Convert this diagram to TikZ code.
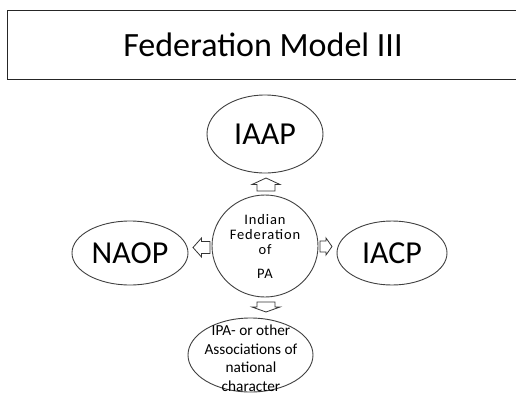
\documentclass[tikz,border=0pt]{standalone}
\usepackage{fontspec}
\setmainfont{Carlito}
\newfontfamily\spaced[LetterSpace=6]{Carlito}
\usetikzlibrary{shapes.geometric}
\tikzset{
  ell/.style={draw=black!75, line width=0.9pt, ellipse, inner sep=0pt, fill=white},
  blk/.style={draw=black!80, line width=0.8pt, fill=white, line join=miter},
  big/.style={font=\fontsize{32}{32}\selectfont},
}
\newcommand\blockarrow[6]{%
  \begin{scope}[shift={(#2,#3)},rotate=#4]
    \coordinate (#1) at (0,0);
    \draw[blk] (-#5/2,-0.32*#6) -- (0,-0.32*#6) -- (0,-0.5*#6) -- (#5/2,0)
      -- (0,0.5*#6) -- (0,0.32*#6) -- (-#5/2,0.32*#6) -- cycle;
  \end{scope}}
\begin{document}
\begin{tikzpicture}[x=1pt,y=-1pt]
  \useasboundingbox (0,0) rectangle (516,394);
  \clip (0,0) rectangle (516,394);
  % title
  \draw[draw=black!85, line width=0.9pt] (520,10) -- (7,10) -- (7,79) -- (520,79);
  \node[font=\fontsize{34}{34}\selectfont] (title) at (263,45) {Federation Model III};
  % ellipses
  \node[ell, minimum width=116pt, minimum height=78pt, big] (iaap) at (265,134) {IAAP};
  \node[ell, minimum width=106pt, minimum height=102pt] (fed) at (265,246) {};
  \node[align=center, font=\spaced\fontsize{14.5}{15}\selectfont] (fedtext) at (265,246)
    {Indian\\Federation\\of\\[9pt]PA};
  \node[ell, minimum width=116pt, minimum height=64pt, big] (naop) at (130,253) {NAOP};
  \node[ell, minimum width=110pt, minimum height=64pt, big] (iacp) at (392,253) {IACP};
  \node[ell, minimum width=125pt, minimum height=74pt] (ipa) at (250.5,355) {};
  \node[align=center, font=\fontsize{15.3}{18.5}\selectfont] (ipatext) at (251,358)
    {IPA- or other\\Associations of\\national\\character};
  % block arrows
  \blockarrow{aup}{266}{184.5}{90}{13}{28}
  \blockarrow{aleft}{201.5}{247.5}{180}{17}{19}
  \blockarrow{aright}{326}{246.5}{0}{12}{17}
  \blockarrow{adown}{266}{307}{-90}{10}{28}
\end{tikzpicture}
\end{document}
